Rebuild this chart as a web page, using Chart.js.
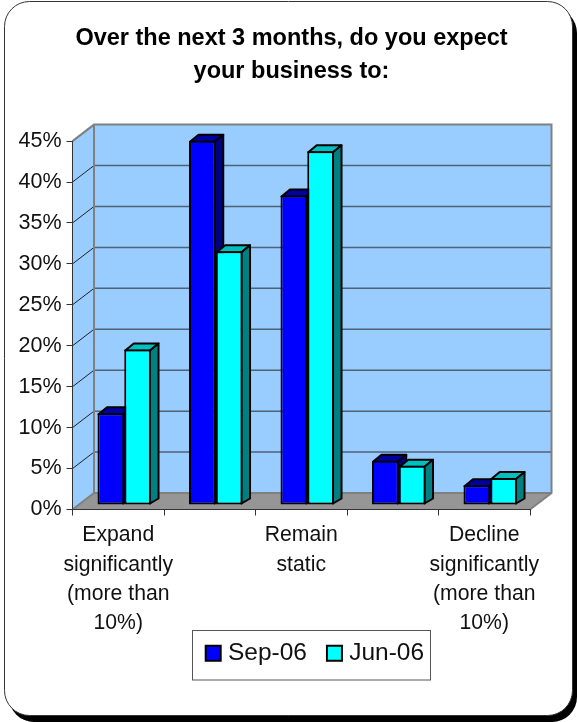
<!DOCTYPE html>
<html>
<head>
<meta charset="utf-8">
<title>Business expectations</title>
<script src="https://cdn.jsdelivr.net/npm/chart.js@4/dist/chart.umd.min.js"></script>
<style>
  html, body { margin: 0; padding: 0; background: #fff; }
  canvas { display: block; }
</style>
</head>
<body>
<canvas id="myChart" width="577" height="722"></canvas>
<script>
const titleLines = ['Over the next 3 months, do you expect', 'your business to:'];
const categories = [
    ['Expand', 'significantly', '(more than', '10%)'],
    '',
    ['Remain', 'static'],
    '',
    ['Decline', 'significantly', '(more than', '10%)']
];
const sep06 = [11.2, 44.5, 37.8, 5.4, 2.4];
const jun06 = [19.0, 31.0, 43.2, 4.8, 3.3];
const seriesNames = ['Sep-06', 'Jun-06'];

// depth of the floor/walls, and how far the bars sit in from the front edge
const wallDx = 21.5, wallDy = 16.5;
const barShiftX = 6, barShiftY = 4.5;
const barDx = 8.5, barDy = 6;

const faceColors = [
    { top: '#0000a0', side: '#000080' },
    { top: '#00bfbf', side: '#008080' }
];

function poly(ctx, pts, fill, stroke, lw) {
    ctx.beginPath();
    pts.forEach((p, i) => i ? ctx.lineTo(p[0], p[1]) : ctx.moveTo(p[0], p[1]));
    ctx.closePath();
    if (fill) { ctx.fillStyle = fill; ctx.fill(); }
    if (stroke) { ctx.strokeStyle = stroke; ctx.lineWidth = lw; ctx.stroke(); }
}

function roundBox(ctx, x, y, w, h, r) {
    ctx.beginPath();
    ctx.roundRect(x, y, w, h, r);
}

const threeD = {
    id: 'threeD',
    afterLayout(chart) {
        // title and legend do not sit where the library centres them
        chart.titleBlock.left = 6;
        chart.titleBlock.right = 577;
        const lg = chart.legend;
        lg.left = 185.7;
        lg.right = 577;
        lg.top = 616;
        lg.bottom = 690;
    },
    beforeDraw(chart) {
        const ctx = chart.ctx;
        const a = chart.chartArea;
        const y = chart.scales.y;

        // panel with drop shadow
        ctx.save();
        roundBox(ctx, 9, 8, 568, 714, 25);
        ctx.fillStyle = '#000';
        ctx.fill();
        roundBox(ctx, 4.5, 1.5, 568, 714, 25);
        ctx.fillStyle = '#fff';
        ctx.fill();
        ctx.strokeStyle = '#333';
        ctx.lineWidth = 1;
        ctx.stroke();

        // walls and floor
        const b = y.getPixelForValue(0), t = y.getPixelForValue(45);
        const wl = a.left + wallDx, wr = a.right + wallDx;
        poly(ctx, [[wl, t - wallDy], [wr, t - wallDy], [wr, b - wallDy], [wl, b - wallDy]], '#99ccff');
        poly(ctx, [[a.left, t], [wl, t - wallDy], [wl, b - wallDy], [a.left, b]], '#99ccff');
        poly(ctx, [[a.left, b], [a.right, b], [wr, b - wallDy], [wl, b - wallDy]], '#969696');

        // grid on back wall and side wall
        y.ticks.forEach(tk => {
            const py = y.getPixelForValue(tk.value);
            if (tk.value > 0 && tk.value < 45) {
                ctx.beginPath();
                ctx.moveTo(wl, py - wallDy);
                ctx.lineTo(wr, py - wallDy);
                ctx.strokeStyle = '#4e6278';
                ctx.lineWidth = 1.5;
                ctx.stroke();
                ctx.beginPath();
                ctx.moveTo(a.left, py);
                ctx.lineTo(wl, py - wallDy);
                ctx.strokeStyle = '#222';
                ctx.lineWidth = 1;
                ctx.stroke();
            }
        });

        // wall outline
        ctx.strokeStyle = '#808080';
        ctx.lineWidth = 2;
        ctx.beginPath();
        ctx.moveTo(a.left, t);
        ctx.lineTo(wl, t - wallDy);
        ctx.lineTo(wr, t - wallDy);
        ctx.lineTo(wr, b - wallDy);
        ctx.lineTo(a.right, b);
        ctx.moveTo(wl, t - wallDy);
        ctx.lineTo(wl, b - wallDy);
        ctx.lineTo(a.left, b);
        ctx.moveTo(wl, b - wallDy);
        ctx.lineTo(wr, b - wallDy);
        ctx.stroke();

        // legend frame
        ctx.strokeStyle = '#555';
        ctx.lineWidth = 1;
        ctx.strokeRect(192.5, 630.5, 238, 49.5);
        ctx.restore();
    },
    beforeDatasetsDraw(chart) {
        const ctx = chart.ctx;
        ctx.save();
        ctx.translate(barShiftX, -barShiftY);
        // side and top faces go first, Sep-06 under Jun-06; the library then draws the fronts
        ctx.save();
        ctx.lineJoin = 'round';
        faceColors.forEach((c, i) => {
            chart.getDatasetMeta(i).data.forEach(bar => {
                const p = bar.getProps(['x', 'y', 'base', 'width']);
                const l = p.x - p.width / 2, r = p.x + p.width / 2;
                const edge = 1; // sits on the outer edge of the bar border
                poly(ctx, [[l + edge, p.y + edge], [l + barDx + edge, p.y - barDy], [r + barDx - edge, p.y - barDy], [r - edge, p.y + edge]], c.top, '#000', 2);
                poly(ctx, [[r - edge, p.y + edge], [r + barDx - edge, p.y - barDy], [r + barDx - edge, p.base - barDy], [r - edge, p.base - edge]], c.side, '#000', 2);
            });
        });
        ctx.restore();
    },
    afterDatasetsDraw(chart) {
        chart.ctx.restore();
    }
};

const myChart = new Chart(document.getElementById('myChart'), {
    type: 'bar',
    data: {
        labels: categories,
        datasets: [
            { label: seriesNames[0], data: sep06, backgroundColor: '#0000ff' },
            { label: seriesNames[1], data: jun06, backgroundColor: '#00ffff' }
        ]
    },
    options: {
        responsive: false,
        animation: false,
        clip: false,
        layout: { padding: { top: 0, right: 47, bottom: 18, left: 0 } },
        datasets: {
            bar: {
                barPercentage: 1,
                categoryPercentage: 0.585,
                borderColor: '#000',
                borderWidth: 2,
                borderSkipped: false
            }
        },
        scales: {
            x: {
                afterFit(scale) { scale.height = 135; },
                border: { display: true, color: '#333', width: 1 },
                grid: { drawOnChartArea: false, drawTicks: true, tickLength: 6, color: '#333' },
                ticks: {
                    autoSkip: false,
                    maxRotation: 0,
                    padding: 5,
                    color: '#111',
                    font: { family: '"Liberation Sans", Arial, sans-serif', size: 21.2, lineHeight: 1.39 }
                }
            },
            y: {
                min: 0,
                max: 45,
                afterFit(scale) { scale.width = 72.5; },
                border: { display: true, color: '#333', width: 1 },
                grid: { drawOnChartArea: false, drawTicks: true, tickLength: 6, color: '#333' },
                ticks: {
                    stepSize: 5,
                    padding: 5,
                    color: '#111',
                    callback: v => v + '%',
                    font: { family: '"Liberation Sans", Arial, sans-serif', size: 21.5 }
                }
            }
        },
        plugins: {
            title: {
                display: true,
                text: titleLines,
                color: '#000',
                padding: { top: 22, bottom: 53.3 },
                font: { family: '"Liberation Sans", Arial, sans-serif', size: 23.5, weight: 'bold', lineHeight: 1.4 }
            },
            legend: {
                position: 'bottom',
                align: 'start',
                labels: {
                    usePointStyle: true,
                    pointStyle: 'rect',
                    boxWidth: 5,
                    boxHeight: 15,
                    padding: 25,
                    color: '#111',
                    font: { family: '"Liberation Sans", Arial, sans-serif', size: 24.5 }
                },
                onClick: null
            },
            tooltip: { enabled: false }
        }
    },
    plugins: [threeD]
});
</script>
</body>
</html>
